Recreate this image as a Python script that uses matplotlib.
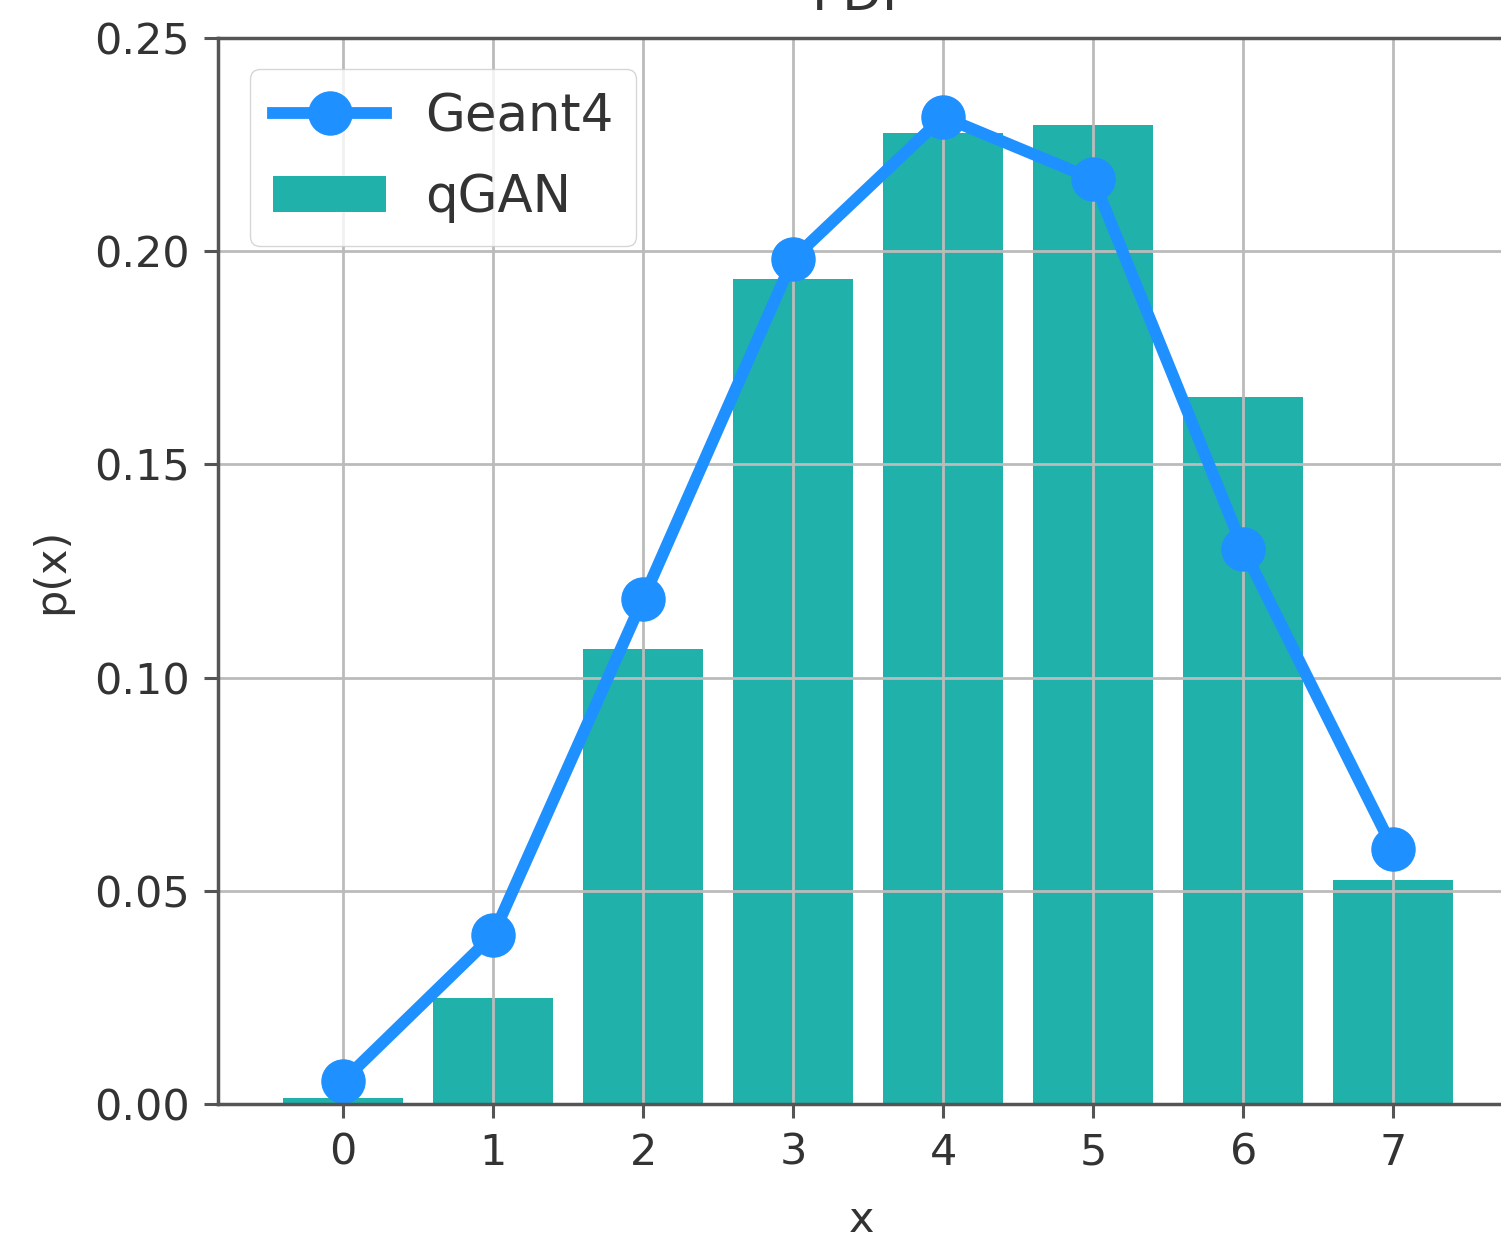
import numpy as np
import matplotlib.pyplot as plt

# discrete values of x and the two distributions
x = np.arange(8)
qgan_pdf = [0.0015, 0.0249, 0.1067, 0.1935, 0.2277, 0.2296, 0.1658, 0.0525]
geant4_pdf = [0.0054, 0.0396, 0.1184, 0.1982, 0.2315, 0.2169, 0.1302, 0.0598]

plt.rcParams['font.size'] = 31
plt.rcParams['text.color'] = '#333333'
plt.rcParams['axes.labelcolor'] = '#333333'
plt.rcParams['xtick.color'] = '#333333'
plt.rcParams['ytick.color'] = '#333333'

fig = plt.figure(figsize=(15.01, 12.44), dpi=100)
ax = fig.add_axes([0.1452, 0.1125, 0.858, 0.857])

ax.bar(x, qgan_pdf, width=0.8, color='lightseagreen', label='qGAN')
ax.plot(x, geant4_pdf, '-o', color='dodgerblue', linewidth=8.5,
        markersize=31, label='Geant4')

ax.set_xlim(-0.833, 7.75)
ax.set_ylim(0, 0.25)
ax.set_xticks(x)
ax.set_yticks([0.0, 0.05, 0.10, 0.15, 0.20, 0.25])
ax.set_yticklabels(['0.00', '0.05', '0.10', '0.15', '0.20', '0.25'])
ax.grid(True, color='#bbbbbb', linewidth=2)
ax.tick_params(length=10, width=2.2, color='#555555', pad=10)
for s in ax.spines.values():
    s.set_color('#555555')
    s.set_linewidth(2.5)

ax.set_xlabel('x', labelpad=18)
ax.set_ylabel('p(x)', labelpad=16)
ax.set_title('PDF', pad=20)

leg = ax.legend(loc='upper left', fontsize=37, handlelength=2.2,
                handletextpad=0.75, borderpad=0.45, labelspacing=0.6,
                framealpha=0.8, bbox_to_anchor=(0.005, 0.995))

plt.savefig('out.png', dpi=100)
